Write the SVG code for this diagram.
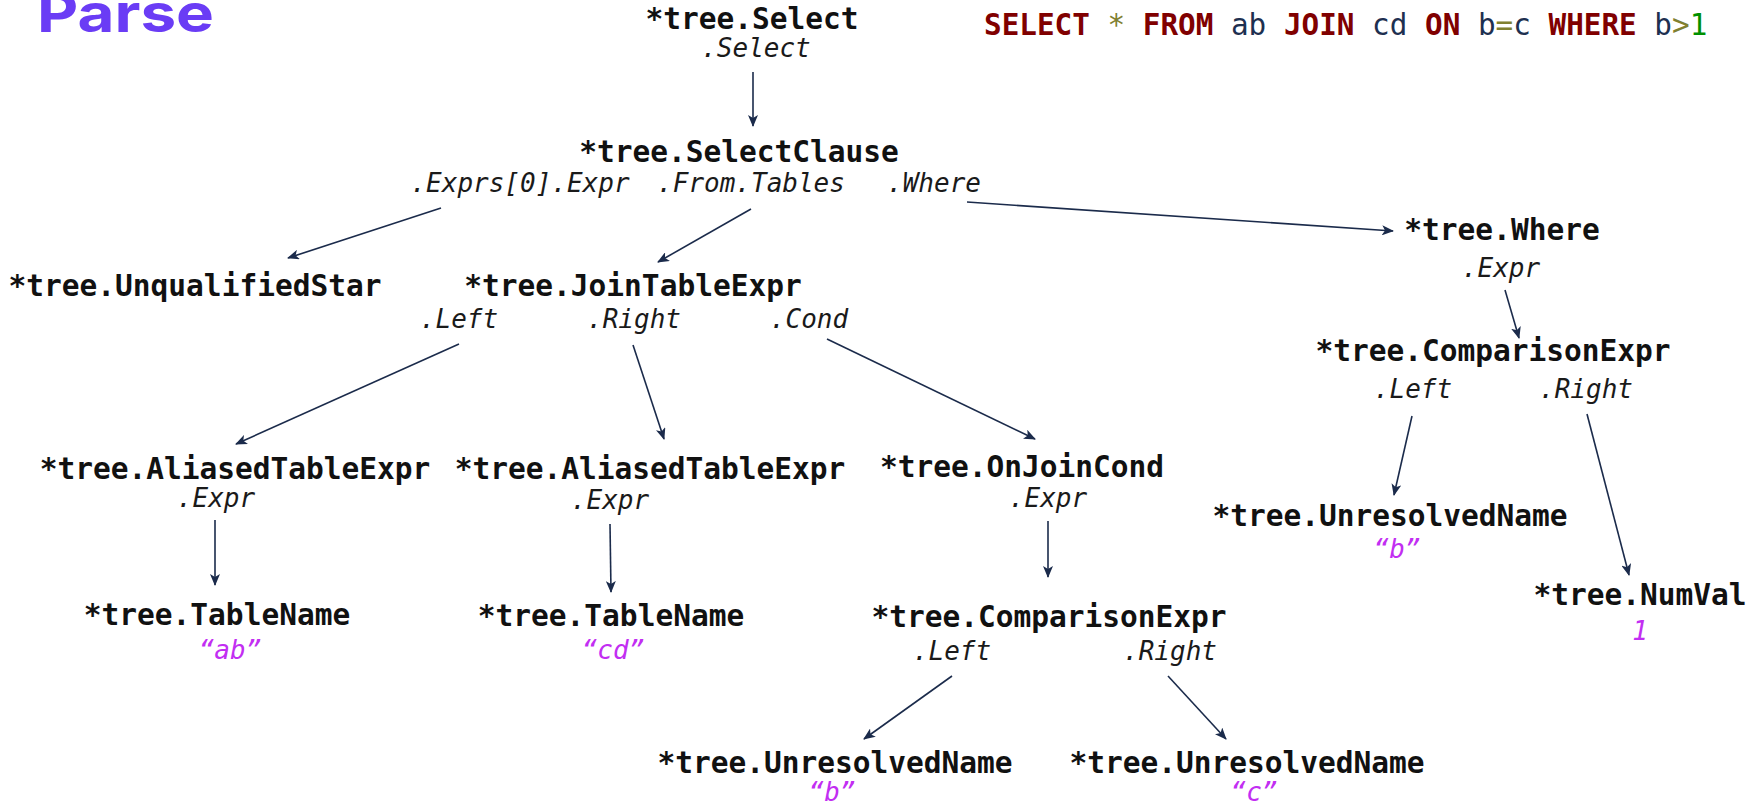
<svg xmlns="http://www.w3.org/2000/svg" width="1764" height="805" viewBox="0 0 1764 805">
<style>
.t{font-family:"DejaVu Sans Mono","Liberation Mono",monospace;font-weight:bold;font-size:29.5px;fill:#111;text-anchor:middle}
.l{font-family:"DejaVu Sans Mono","Liberation Mono",monospace;font-style:italic;font-size:26px;fill:#1a1a1a;text-anchor:middle}
.v{font-family:"DejaVu Sans Mono","Liberation Mono",monospace;font-style:italic;font-size:26px;fill:#c22ef2;text-anchor:middle}
.c{stroke:#1b2b4b;stroke-width:1.6;fill:none;marker-end:url(#ah)}
.sql{font-family:"DejaVu Sans Mono","Liberation Mono",monospace;font-size:29.3px}
.kw{fill:#800000;font-weight:bold}
.op{fill:#808030}
.id{fill:#1e3050}
.num{fill:#009000}
</style>
<defs>
<marker id="ah" viewBox="0 0 12 10" refX="11" refY="5" markerWidth="12" markerHeight="10" markerUnits="userSpaceOnUse" orient="auto">
<path d="M0,0 L12,5 L0,10 L3,5 z" fill="#1b2b4b"/>
</marker>
</defs>
<rect width="1764" height="805" fill="#ffffff"/>
<text x="37" y="32" font-family="Inter,'Noto Sans',sans-serif" font-weight="bold" font-size="54" fill="#6a3cf5" textLength="177" lengthAdjust="spacingAndGlyphs">Parse</text>
<text class="sql" x="984" y="35"><tspan class="kw">SELECT</tspan> <tspan class="op">*</tspan> <tspan class="kw">FROM</tspan> <tspan class="id">ab</tspan> <tspan class="kw">JOIN</tspan> <tspan class="id">cd</tspan> <tspan class="kw">ON</tspan> <tspan class="id">b</tspan><tspan class="op">=</tspan><tspan class="id">c</tspan> <tspan class="kw">WHERE</tspan> <tspan class="id">b</tspan><tspan class="op">&gt;</tspan><tspan class="num">1</tspan></text>
<g id="connectors">
<line class="c" x1="753" y1="72" x2="753" y2="126"/>
<line class="c" x1="441" y1="208" x2="288" y2="258"/>
<line class="c" x1="751" y1="209" x2="658" y2="262"/>
<line class="c" x1="967" y1="202" x2="1393" y2="231"/>
<line class="c" x1="459" y1="344" x2="236" y2="444"/>
<line class="c" x1="633" y1="345" x2="664" y2="439"/>
<line class="c" x1="827" y1="339" x2="1035" y2="439"/>
<line class="c" x1="1505" y1="290" x2="1519" y2="338"/>
<line class="c" x1="1412" y1="416" x2="1394" y2="495"/>
<line class="c" x1="1587" y1="414" x2="1629" y2="575"/>
<line class="c" x1="215" y1="520" x2="215" y2="585"/>
<line class="c" x1="610" y1="524" x2="611" y2="592"/>
<line class="c" x1="1048" y1="521" x2="1048" y2="577"/>
<line class="c" x1="952" y1="676" x2="864" y2="739"/>
<line class="c" x1="1168" y1="676" x2="1226" y2="739"/>
</g>
<g id="select"><text class="t" x="752" y="29">*tree.Select</text><text class="l" x="756" y="57">.Select</text></g>
<g id="selectclause"><text class="t" x="739" y="162">*tree.SelectClause</text><text class="l" x="520" y="192">.Exprs[0].Expr</text><text class="l" x="751" y="192">.From.Tables</text><text class="l" x="934" y="192">.Where</text></g>
<g id="unqualifiedstar"><text class="t" x="195" y="296">*tree.UnqualifiedStar</text></g>
<g id="jointableexpr"><text class="t" x="633" y="296">*tree.JoinTableExpr</text><text class="l" x="459" y="328">.Left</text><text class="l" x="634" y="328">.Right</text><text class="l" x="809" y="328">.Cond</text></g>
<g id="where"><text class="t" x="1502" y="240">*tree.Where</text><text class="l" x="1501" y="277">.Expr</text></g>
<g id="comparison-right"><text class="t" x="1493" y="361">*tree.ComparisonExpr</text><text class="l" x="1413" y="398">.Left</text><text class="l" x="1586" y="398">.Right</text></g>
<g id="unresolved-right"><text class="t" x="1390" y="526">*tree.UnresolvedName</text><text class="v" x="1397" y="558">“b”</text></g>
<g id="numval"><text class="t" x="1640" y="605">*tree.NumVal</text><text class="v" x="1640" y="640">1</text></g>
<g id="aliased-left"><text class="t" x="235" y="479">*tree.AliasedTableExpr</text><text class="l" x="216" y="507">.Expr</text></g>
<g id="tablename-ab"><text class="t" x="217" y="625">*tree.TableName</text><text class="v" x="230" y="659">“ab”</text></g>
<g id="aliased-mid"><text class="t" x="650" y="479">*tree.AliasedTableExpr</text><text class="l" x="610" y="509">.Expr</text></g>
<g id="tablename-cd"><text class="t" x="611" y="626">*tree.TableName</text><text class="v" x="613" y="659">“cd”</text></g>
<g id="onjoincond"><text class="t" x="1022" y="477">*tree.OnJoinCond</text><text class="l" x="1048" y="507">.Expr</text></g>
<g id="comparison-mid"><text class="t" x="1049" y="627">*tree.ComparisonExpr</text><text class="l" x="952" y="660">.Left</text><text class="l" x="1170" y="660">.Right</text></g>
<g id="unresolved-b"><text class="t" x="835" y="773">*tree.UnresolvedName</text><text class="v" x="832" y="801">“b”</text></g>
<g id="unresolved-c"><text class="t" x="1247" y="773">*tree.UnresolvedName</text><text class="v" x="1254" y="801">“c”</text></g>
</svg>
